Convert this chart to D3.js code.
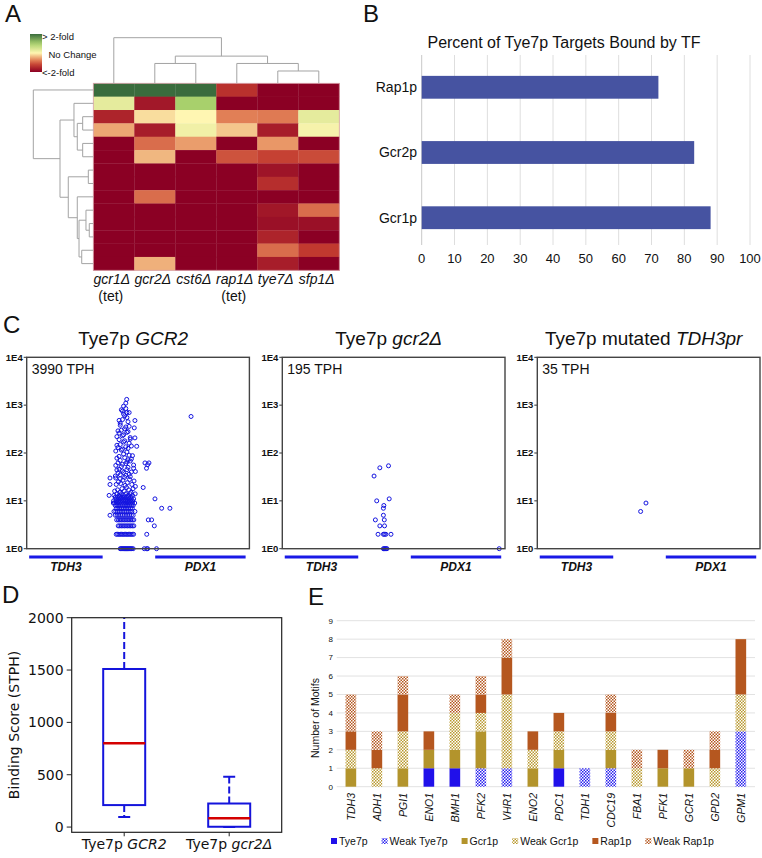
<!DOCTYPE html>
<html><head><meta charset="utf-8">
<script src="https://cdn.jsdelivr.net/npm/d3@7"></script>
<style>
body{margin:0;background:#fff}
svg{display:block}
text{font-family:Arial,"Liberation Sans",sans-serif;fill:#111}
</style>
</head><body>
<svg id="fig" width="762" height="858"></svg>
<script>
// ================= DATA =================
// Panel A: heatmap (log2 fold change, clipped to [-1,1] = <-2-fold .. >2-fold)
const hmColumns = ["gcr1Δ","gcr2Δ","cst6Δ","rap1Δ","tye7Δ","sfp1Δ"];
const hmColumnNotes = ["(tet)","","","(tet)","",""];
const hmValues = [
  [ 1.00,  1.00,  1.00, -0.70, -1.00, -1.00],
  [ 0.15, -0.85,  0.50, -1.00, -1.00, -1.00],
  [-0.78, -0.08,  0.00, -0.38, -0.40,  0.15],
  [-0.25, -0.82,  0.08, -0.15, -0.82,  0.05],
  [-1.00, -0.45, -0.28, -1.00, -0.30, -1.00],
  [-1.00, -0.20, -1.00, -0.55, -0.62, -0.58],
  [-1.00, -1.00, -1.00, -1.00, -0.88, -1.00],
  [-1.00, -1.00, -1.00, -1.00, -0.72, -1.00],
  [-1.00, -0.45, -1.00, -1.00, -1.00, -1.00],
  [-1.00, -1.00, -1.00, -1.00, -0.86, -0.45],
  [-1.00, -1.00, -1.00, -1.00, -0.90, -0.90],
  [-1.00, -1.00, -1.00, -1.00, -0.78, -1.00],
  [-1.00, -1.00, -1.00, -1.00, -0.45, -0.65],
  [-1.00, -0.22, -1.00, -1.00, -0.82, -1.00]
];
// dendrograms: [left, right, height]; numbers are leaf indices
const colTree = [0, [[1, 2, 0.435], [3, [4, 5, 0.27], 0.435], 0.596], 1.0];
const rowTree = [0, [
  [1, [[2, 3, 0.177], [4, 5, 0.177], 0.267], 0.322],
  [[6, 7, 0.083], [8, [[9, [10, 11, 0.067], 0.122], [12, 13, 0.193], 0.238], 0.267], 0.417],
  0.555], 1.0];
const hmLegendLabels = ["> 2-fold", "No Change", "<-2-fold"];

// Panel B
const bTitle = "Percent of Tye7p Targets Bound by TF";
const bFactors = ["Rap1p", "Gcr2p", "Gcr1p"];
const bPercent = [72.1, 83.0, 88.0];
const bTicks = [0,10,20,30,40,50,60,70,80,90,100];

// Panel C (x = position in window, 0..1000; y = reads)
const cTitlePrefix = ["Tye7p ", "Tye7p ", "Tye7p mutated "];
const cTitleItalic = ["GCR2", "gcr2Δ", "TDH3pr"];
const cTph = ["3990 TPH", "195 TPH", "35 TPH"];
const cYTicks = [1, 10, 100, 1000, 10000];
const cYTickLabels = ["1E0", "1E1", "1E2", "1E3", "1E4"];
const cGenes = ["TDH3", "PDX1"];
const cGeneStart = [11, 577];
const cGeneEnd = [341, 983];
const cPointsGCR2 = [
  [420,1],[424,1],[428,1],[432,1],[436,1],[440,1],[444,1],[448,1],[452,1],[456,1],[460,1],[464,1],[468,1],[472,1],[478,1],[528,1],[539,1],[543,1],[583,1],
  [402,2],[408,2],[414,2],[420,2],[426,2],[432,2],[438,2],[444,2],[450,2],[456,2],[462,2],[468,2],[474,2],[480,2],[539,2],
  [411,3],[418,3],[425,3],[432,3],[439,3],[446,3],[453,3],[460,3],[467,3],[474,3],[481,3],[573,3],
  [404,4],[411,4],[418,4],[425,4],[432,4],[439,4],[446,4],[453,4],[460,4],[467,4],[474,4],[481,4],[546,4],[561,4],
  [374,5],[398,5],[406,5],[414,5],[422,5],[430,5],[438,5],[446,5],[454,5],[462,5],[470,5],[478,5],
  [392,6],[400,6],[408,6],[416,6],[424,6],[432,6],[440,6],[448,6],[456,6],[464,6],[472,6],[486,6],
  [402,7],[410,7],[418,7],[426,7],[434,7],[442,7],[450,7],[458,7],[466,7],[474,7],[606,7],[643,7],
  [398,8],[406,8],[414,8],[422,8],[430,8],[438,8],[446,8],[454,8],[462,8],[470,8],[478,8],
  [389,9],[395,9],[405,9],[415,9],[425,9],[435,9],[445,9],[455,9],[465,9],[475,9],[485,9],
  [390,10],[402,10],[412,10],[420,10],[428,10],[436,10],[444,10],[452,10],[460,10],[468,10],[476,10],
  [400,11],[410,11],[420,11],[430,11],[440,11],[450,11],[460,11],[470,11],[480,11],[576,11],
  [370,13],[398,12],[408,12],[418,12],[428,12],[438,12],[448,12],[458,12],[468,12],
  [392,13],[405,14],[415,13],[425,14],[435,13],[445,14],[455,13],[465,14],[475,13],[487,14],
  [395,16],[408,17],[418,15],[428,18],[438,16],[448,19],[458,17],[468,15],[478,18],[488,20],[374,22],[523,19],
  [402,22],[412,25],[422,23],[432,27],[442,21],[452,24],[462,28],[472,22],[482,26],[374,30],[400,30],[420,29],
  [398,33],[410,38],[420,35],[430,42],[440,31],[450,45],[460,36],[470,40],[480,48],[415,46],[445,34],[465,32],[405,44],[435,39],[455,50],[488,41],
  [531,62],[543,57],[549,62],[538,48],
  [400,55],[410,62],[420,70],[430,58],[440,80],[450,65],[460,90],[470,75],[415,85],[425,52],[435,95],[445,60],[455,72],[465,68],[405,78],[475,88],[480,56],
  [400,110],[410,130],[420,150],[430,120],[440,180],[450,105],[460,160],[470,140],[415,190],[425,115],[435,170],[445,135],[455,125],[465,195],[405,145],[494,138],[486,207],
  [405,220],[415,260],[425,300],[435,240],[445,350],[455,280],[465,210],[420,380],[430,230],[440,320],[450,270],[460,360],[410,290],[483,335],
  [420,420],[430,500],[440,600],[450,700],[425,800],[435,950],[445,1100],[449,1320],[430,750],[450,550],[455,450],[415,480],[435,650],[445,850],[460,700],[486,477],
  [738,580]
];
const cPointsGcr2Del = [
  [412,33],[438,49],[477,54],[424,10],[480,11],[456,8],[454,7],[454,5],[418,4],[458,4],
  [438,3],[459,3],[430,2],[454,2],[459,2],[465,2],[488,2],[454,1],[458,1],[462,1],[466,1],[470,1],[974,1]
];
const cPointsMutated = [[464,6],[488,9]];

// Panel D (box plot, STPH)
const dGroupPrefix = ["Tye7p ", "Tye7p "];
const dGroupItalic = ["GCR2", "gcr2Δ"];
const dLow    = [95, 0];
const dQ1     = [210, 3];
const dMedian = [800, 85];
const dQ3     = [1510, 225];
const dHigh   = [2600, 480];
const dTicks  = [0, 500, 1000, 1500, 2000];

// Panel E (motif counts, stacked)
const eGenes = ["TDH3","ADH1","PGI1","ENO1","BMH1","PFK2","VHR1","ENO2","PDC1","TDH1","CDC19","FBA1","PFK1","GCR1","GPD2","GPM1"];
const eSeries = ["Tye7p","Weak Tye7p","Gcr1p","Weak Gcr1p","Rap1p","Weak Rap1p"];
const eTye7     = [0,0,0,1,1,0,0,0,1,0,0,0,0,0,0,0];
const eWeakTye7 = [0,0,0,0,0,1,1,0,0,1,1,0,0,0,0,3];
const eGcr1     = [1,0,1,1,1,2,0,1,1,0,1,0,1,1,0,0];
const eWeakGcr1 = [1,1,2,0,2,1,4,1,1,0,1,1,0,0,1,2];
const eRap1     = [1,1,2,1,0,1,2,1,1,0,1,0,1,0,1,3];
const eWeakRap1 = [2,1,1,0,1,1,1,0,0,0,1,1,0,1,1,0];
const eTicks = [0,1,2,3,4,5,6,7,8,9];

// ================= DRAW =================
const svg = d3.select("#fig");
const defs = svg.append("defs");

function panelLetter(t, x, y){
  svg.append("text").attr("x",x).attr("y",y).attr("font-size",24).text(t);
}
panelLetter("A", 5, 22); panelLetter("B", 363, 22);
panelLetter("C", 3, 333); panelLetter("D", 2, 603); panelLetter("E", 308, 605);

// ---------- Panel A ----------
(function(){
  const x0 = 93.3, x1 = 339.3, y0 = 83.3, y1 = 270.3;
  const xs = d3.scaleBand().domain(d3.range(hmColumns.length)).range([x0, x1]);
  const ys = d3.scaleBand().domain(d3.range(hmValues.length)).range([y0, y1]);
  const color = d3.scaleLinear()
    .domain([-1, -0.65, -0.35, 0, 0.5, 1])
    .range(["#8b0024", "#c1392f", "#e5875a", "#fff6b2", "#a8d06c", "#3a6c3d"])
    .interpolate(d3.interpolateRgb);
  const g = svg.append("g");
  hmValues.forEach((row, r) => row.forEach((v, c) => {
    g.append("rect").attr("x", xs(c)).attr("y", ys(r))
      .attr("width", xs.bandwidth() + 0.3).attr("height", ys.bandwidth() + 0.3)
      .attr("fill", color(v));
  }));
  g.append("rect").attr("x", x0).attr("y", y0).attr("width", x1 - x0).attr("height", y1 - y0)
    .attr("fill", "none").attr("stroke", "#d9a0a8").attr("stroke-width", 0.8);

  const lineCol = "#a3a3a3";
  const hY = d3.scaleLinear().domain([0, 1]).range([y0, 37.7]);
  function colDendro(node){
    if (typeof node === "number") return {p: xs(node) + xs.bandwidth()/2, h: 0};
    const A = colDendro(node[0]), B = colDendro(node[1]), h = node[2];
    g.append("path").attr("fill","none").attr("stroke",lineCol).attr("stroke-width",1)
      .attr("d", `M${A.p},${hY(A.h)}V${hY(h)}H${B.p}V${hY(B.h)}`);
    return {p: (A.p + B.p)/2, h};
  }
  colDendro(colTree);
  const hX = d3.scaleLinear().domain([0, 1]).range([x0, 33.3]);
  function rowDendro(node){
    if (typeof node === "number") return {p: ys(node) + ys.bandwidth()/2, h: 0};
    const A = rowDendro(node[0]), B = rowDendro(node[1]), h = node[2];
    g.append("path").attr("fill","none").attr("stroke",lineCol).attr("stroke-width",1)
      .attr("d", `M${hX(A.h)},${A.p}H${hX(h)}V${B.p}H${hX(B.h)}`);
    return {p: (A.p + B.p)/2, h};
  }
  rowDendro(rowTree);

  hmColumns.forEach((lab, i) => {
    const cx = xs(i) + xs.bandwidth()/2 - 2;
    g.append("text").attr("x", cx).attr("y", 284).attr("text-anchor","middle")
      .attr("font-size", 14).attr("font-style","italic").attr("fill","#222").text(lab);
    if (hmColumnNotes[i]) g.append("text").attr("x", cx - 1).attr("y", 301).attr("text-anchor","middle")
      .attr("font-size", 14).attr("fill","#222").text(hmColumnNotes[i]);
  });

  const grad = defs.append("linearGradient").attr("id","hmgrad").attr("x1",0).attr("x2",0).attr("y1",0).attr("y2",1);
  d3.range(0, 1.0001, 0.1).forEach(t => {
    grad.append("stop").attr("offset", t).attr("stop-color", color(1 - 2*t));
  });
  g.append("rect").attr("x", 30).attr("y", 34).attr("width", 12).attr("height", 38).attr("fill","url(#hmgrad)");
  const ly = [37, 55, 73], lx = [42, 48.5, 42];
  hmLegendLabels.forEach((t, i) => {
    g.append("text").attr("x", lx[i]).attr("y", ly[i]).attr("dy","0.35em")
      .attr("font-size", 9.5).attr("fill","#333").text(t);
  });
})();

// ---------- Panel B ----------
(function(){
  const g = svg.append("g");
  const x = d3.scaleLinear().domain([0, 100]).range([421.7, 750]);
  const y = d3.scaleBand().domain(bFactors).range([55, 250]).paddingInner(0.65).paddingOuter(0.32);
  bTicks.forEach(t => {
    g.append("line").attr("x1", x(t)).attr("x2", x(t)).attr("y1", 55).attr("y2", 245)
      .attr("stroke", t === 0 ? "#c8c8c8" : "#dedede").attr("stroke-width", 1);
    g.append("text").attr("x", x(t)).attr("y", 263).attr("text-anchor","middle")
      .attr("font-size", 13).attr("fill","#333").text(t);
  });
  bFactors.forEach((f, i) => {
    g.append("rect").attr("x", x(0)).attr("y", y(f)).attr("width", x(bPercent[i]) - x(0))
      .attr("height", y.bandwidth()).attr("fill", "#4653a1");
    g.append("text").attr("x", 417).attr("y", y(f) + y.bandwidth()/2).attr("dy","0.35em")
      .attr("text-anchor","end").attr("font-size", 14).attr("fill","#222").text(f);
  });
  g.append("text").attr("x", 564).attr("y", 48).attr("text-anchor","middle")
    .attr("font-size", 16).attr("fill","#222").text(bTitle);
})();

// ---------- Panel C ----------
(function(){
  const lefts = [26.7, 282.3, 537.3], w = 222.7, top = 357.3, bot = 548.7;
  const datasets = [cPointsGCR2, cPointsGcr2Del, cPointsMutated];
  const blue = "#1414e0";
  lefts.forEach((L, k) => {
    const g = svg.append("g");
    const x = d3.scaleLinear().domain([0, 1000]).range([L, L + w]);
    const y = d3.scaleLog().domain([1, 10000]).range([bot, top]);
    const tt = g.append("text").attr("x", L + w/2 - 5).attr("y", 345).attr("text-anchor","middle")
      .attr("font-size", 19).attr("fill","#111");
    tt.append("tspan").text(cTitlePrefix[k]);
    tt.append("tspan").attr("font-style","italic").text(cTitleItalic[k]);
    cYTicks.forEach((t, i) => {
      g.append("line").attr("x1", L - 3).attr("x2", L).attr("y1", y(t)).attr("y2", y(t))
        .attr("stroke","#333").attr("stroke-width",1);
      g.append("text").attr("x", L - 4).attr("y", y(t)).attr("dy","0.35em").attr("text-anchor","end")
        .attr("font-size", 9.5).attr("font-weight","bold").attr("fill","#111").text(cYTickLabels[i]);
    });
    g.selectAll("circle").data(datasets[k]).join("circle")
      .attr("cx", d => x(d[0])).attr("cy", d => y(d[1])).attr("r", 2)
      .attr("fill","none").attr("stroke", blue).attr("stroke-width", 1);
    g.append("rect").attr("x", L).attr("y", top).attr("width", w).attr("height", bot - top)
      .attr("fill","none").attr("stroke","#444").attr("stroke-width",1.4);
    g.append("text").attr("x", L + 5).attr("y", 374).attr("font-size", 14).attr("fill","#111").text(cTph[k]);
    cGenes.forEach((gn, i) => {
      g.append("line").attr("x1", x(cGeneStart[i])).attr("x2", x(cGeneEnd[i]))
        .attr("y1", 557).attr("y2", 557).attr("stroke", "#1a1ae6").attr("stroke-width", 3);
      g.append("text").attr("x", (x(cGeneStart[i]) + x(cGeneEnd[i]))/2).attr("y", 570.5)
        .attr("text-anchor","middle").attr("font-size", 12).attr("font-weight","bold")
        .attr("font-style","italic").attr("fill","#2a2ad0").text(gn);
    });
  });
})();

// ---------- Panel D ----------
(function(){
  const g = svg.append("g").style("font-family","'DejaVu Sans', sans-serif");
  const L = 71.7, R = 281.7, T = 617.7, B = 832.3;
  const y = d3.scaleLinear().domain([-50, 2000]).range([B, T]);
  const x = d3.scalePoint().domain(d3.range(dQ1.length)).range([L, R]).padding(0.5);
  const bw = 42, cap = 12, blue = "#1414dc";
  defs.append("clipPath").attr("id","dclip").append("rect")
    .attr("x", L).attr("y", T).attr("width", R - L).attr("height", B - T);
  const inner = g.append("g").attr("clip-path","url(#dclip)");
  dQ1.forEach((q1, i) => {
    const cx = x(i);
    inner.append("line").attr("x1",cx).attr("x2",cx).attr("y1",y(dQ3[i])).attr("y2",y(dHigh[i]))
      .attr("stroke",blue).attr("stroke-width",2).attr("stroke-dasharray","7,3");
    inner.append("line").attr("x1",cx).attr("x2",cx).attr("y1",y(q1)).attr("y2",y(dLow[i]))
      .attr("stroke",blue).attr("stroke-width",2).attr("stroke-dasharray","7,3");
    [dHigh[i], dLow[i]].forEach(v => inner.append("line").attr("x1",cx-cap/2).attr("x2",cx+cap/2)
      .attr("y1",y(v)).attr("y2",y(v)).attr("stroke",blue).attr("stroke-width",2));
    inner.append("rect").attr("x",cx-bw/2).attr("y",y(dQ3[i])).attr("width",bw)
      .attr("height",y(q1)-y(dQ3[i])).attr("fill","none").attr("stroke",blue).attr("stroke-width",2);
    inner.append("line").attr("x1",cx-bw/2).attr("x2",cx+bw/2).attr("y1",y(dMedian[i])).attr("y2",y(dMedian[i]))
      .attr("stroke","#d40000").attr("stroke-width",2.5);
    g.append("line").attr("x1",cx).attr("x2",cx).attr("y1",B).attr("y2",B+4).attr("stroke","#222");
    const t = g.append("text").attr("x",cx).attr("y",849).attr("text-anchor","middle").attr("font-size",14)
      .style("font-family","'DejaVu Sans', sans-serif");
    t.append("tspan").text(dGroupPrefix[i]);
    t.append("tspan").attr("font-style","italic").text(dGroupItalic[i]);
  });
  dTicks.forEach(t => {
    g.append("line").attr("x1",L-5).attr("x2",L).attr("y1",y(t)).attr("y2",y(t)).attr("stroke","#222");
    g.append("text").attr("x",L-8).attr("y",y(t)).attr("dy","0.35em").attr("text-anchor","end")
      .attr("font-size",14).style("font-family","'DejaVu Sans', sans-serif").text(t);
  });
  g.append("rect").attr("x",L).attr("y",T).attr("width",R-L).attr("height",B-T)
    .attr("fill","none").attr("stroke","#222").attr("stroke-width",1.2);
  g.append("text").attr("transform",`translate(14,${(T+B)/2}) rotate(-90)`).attr("text-anchor","middle")
    .attr("dy","0.35em").attr("font-size",14).style("font-family","'DejaVu Sans', sans-serif")
    .text("Binding Score (STPH)");
})();

// ---------- Panel E ----------
(function(){
  const g = svg.append("g");
  const colors = {"Tye7p":"#2010ea","Weak Tye7p":"#2a22ee","Gcr1p":"#b3942c","Weak Gcr1p":"#b99a30","Rap1p":"#b5571f","Weak Rap1p":"#b5571f"};
  const weak = {"Weak Tye7p":true,"Weak Gcr1p":true,"Weak Rap1p":true};
  eSeries.forEach((s, i) => {
    if (!weak[s]) return;
    const p = defs.append("pattern").attr("id","pat"+i).attr("patternUnits","userSpaceOnUse")
      .attr("width",3).attr("height",3);
    p.append("rect").attr("width",3).attr("height",3).attr("fill","#fff");
    p.append("rect").attr("width",1.5).attr("height",1.5).attr("fill",colors[s]);
    p.append("rect").attr("x",1.5).attr("y",1.5).attr("width",1.5).attr("height",1.5).attr("fill",colors[s]);
  });
  const fillOf = (s) => weak[s] ? `url(#pat${eSeries.indexOf(s)})` : colors[s];
  const table = eGenes.map((gname, i) => ({gene: gname,
    "Tye7p": eTye7[i], "Weak Tye7p": eWeakTye7[i], "Gcr1p": eGcr1[i],
    "Weak Gcr1p": eWeakGcr1[i], "Rap1p": eRap1[i], "Weak Rap1p": eWeakRap1[i]}));
  const stacked = d3.stack().keys(eSeries)(table);
  const x = d3.scaleBand().domain(eGenes).range([336.7, 755]).paddingInner(0.59).paddingOuter(0.34);
  const y = d3.scaleLinear().domain([0, 9]).range([786.7, 620.7]);
  eTicks.forEach(t => {
    g.append("line").attr("x1",336.7).attr("x2",755).attr("y1",y(t)).attr("y2",y(t))
      .attr("stroke", "#e2e2e2").attr("stroke-width",1);
    g.append("text").attr("x",333).attr("y",y(t)).attr("dy","0.35em").attr("text-anchor","end")
      .attr("font-size",8).attr("fill","#555").text(t);
  });
  stacked.forEach(layer => {
    g.append("g").selectAll("rect").data(layer.filter(d => d[1] > d[0])).join("rect")
      .attr("x", d => x(d.data.gene)).attr("width", x.bandwidth())
      .attr("y", d => y(d[1])).attr("height", d => y(d[0]) - y(d[1]))
      .attr("fill", fillOf(layer.key));
  });
  eGenes.forEach(gn => {
    g.append("text").attr("transform",`translate(${x(gn)+x.bandwidth()/2+3.8},793) rotate(-90)`)
      .attr("text-anchor","end").attr("font-size",10.5).attr("font-style","italic").attr("fill","#333").text(gn);
  });
  g.append("text").attr("transform",`translate(315,718) rotate(-90)`).attr("text-anchor","middle")
    .attr("dy","0.35em").attr("font-size",10.5).attr("fill","#444").text("Number of Motifs");
  // legend: laid out sequentially from measured text widths
  let lx = 331;
  const gap = 14;
  eSeries.forEach((s, i) => {
    g.append("rect").attr("x", lx).attr("y", 838).attr("width",6).attr("height",6).attr("fill", fillOf(s));
    const t = g.append("text").attr("x", lx + 8).attr("y", 841).attr("dy","0.35em")
      .attr("font-size",10.5).attr("fill","#333").text(s);
    lx += 8 + t.node().getComputedTextLength() + gap;
  });
})();
</script>
</body></html>
